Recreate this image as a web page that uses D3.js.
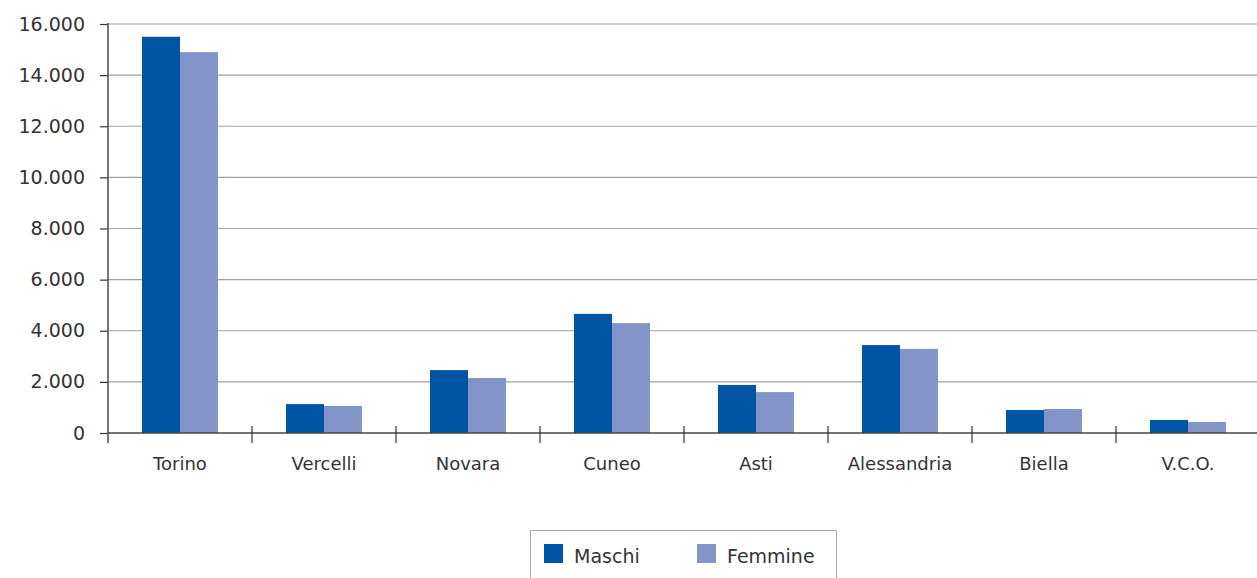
<!DOCTYPE html>
<html><head><meta charset="utf-8">
<script src="https://cdn.jsdelivr.net/npm/d3@7"></script>
<style>
html,body{margin:0;padding:0;background:#fff;}
svg{display:block;}
text{font-family:"DejaVu Sans",sans-serif;fill:#333;}
</style></head>
<body><svg id="c" width="1257" height="578"></svg>
<script>
const categories = ["Torino","Vercelli","Novara","Cuneo","Asti","Alessandria","Biella","V.C.O."];
const seriesNames = ["Maschi","Femmine"];
const maschi  = [15500, 1130, 2460, 4660, 1880, 3440, 900, 510];
const femmine = [14900, 1060, 2150, 4300, 1600, 3290, 940, 430];
const yTicks = [0,2000,4000,6000,8000,10000,12000,14000,16000];
const colors = ["#0054a6","#8395c8"];

(function(){
const svg = d3.select("#c");
const mLeft = 108, mRight = 1260, mTop = 24, mBottom = 433;

const x = d3.scaleBand().domain(categories).range([mLeft, mRight]).paddingInner(0).paddingOuter(0);
const xs = d3.scaleBand().domain(seriesNames).range([0, x.bandwidth()]).paddingInner(0).paddingOuter(0.8947);
const y = d3.scaleLinear().domain([0,16000]).range([mBottom, mTop]);

const fmt = v => d3.format(",")(v).replace(/,/g,".");

// gridlines
svg.append("g").selectAll("line").data(yTicks.filter(d=>d>0)).join("line")
  .attr("x1", mLeft).attr("x2", 1257).attr("y1", d=>y(d)).attr("y2", d=>y(d))
  .attr("stroke","#a0a0a0").attr("stroke-width",1.2);

// bars
const data = categories.map((c,i)=>({c, vals:[maschi[i], femmine[i]]}));
const g = svg.append("g");
data.forEach(d=>{
  d.vals.forEach((v,j)=>{
    g.append("rect")
      .attr("x", x(d.c)+xs(seriesNames[j]))
      .attr("width", xs.bandwidth())
      .attr("y", y(v))
      .attr("height", y(0)-y(v))
      .attr("fill", colors[j]);
  });
});

// y axis
const yAxis = d3.axisLeft(y).tickValues(yTicks).tickFormat(fmt).tickSize(8).tickPadding(15);
const ya = svg.append("g").attr("transform",`translate(${mLeft},0)`).call(yAxis);
ya.select(".domain").remove();
ya.selectAll(".tick line").attr("stroke","#333").attr("stroke-width",1.2);
ya.selectAll(".tick text").style("font-size","19px").attr("fill","#333").attr("font-family","DejaVu Sans");
svg.append("line").attr("x1",mLeft).attr("x2",mLeft).attr("y1",mTop-1).attr("y2",mBottom+10)
  .attr("stroke","#555").attr("stroke-width",1.6);

// x axis
const xAxis = d3.axisBottom(x).tickSize(0).tickPadding(24);
const xa = svg.append("g").attr("transform",`translate(0,${mBottom})`).call(xAxis);
xa.select(".domain").remove();
xa.selectAll(".tick text").style("font-size","18px").attr("fill","#333").attr("font-family","DejaVu Sans");
svg.append("line").attr("x1",mLeft).attr("x2",1257).attr("y1",mBottom).attr("y2",mBottom)
  .attr("stroke","#444").attr("stroke-width",1.4);
svg.append("g").selectAll("line").data(categories.slice(1)).join("line")
  .attr("x1", d=>x(d)).attr("x2", d=>x(d)).attr("y1", mBottom-7).attr("y2", mBottom+10)
  .attr("stroke","#333").attr("stroke-width",1.2);

// legend
const lg = svg.append("g");
lg.append("rect").attr("x",530.5).attr("y",530.5).attr("width",306).attr("height",60)
  .attr("fill","none").attr("stroke","#aaa").attr("stroke-width",1);
const lx = [544, 697];
seriesNames.forEach((s,i)=>{
  lg.append("rect").attr("x",lx[i]).attr("y",544).attr("width",19).attr("height",19).attr("fill",colors[i]);
  lg.append("text").attr("x",lx[i]+30).attr("y",563).text(s).style("font-size","19px");
});
})();
</script></body></html>
